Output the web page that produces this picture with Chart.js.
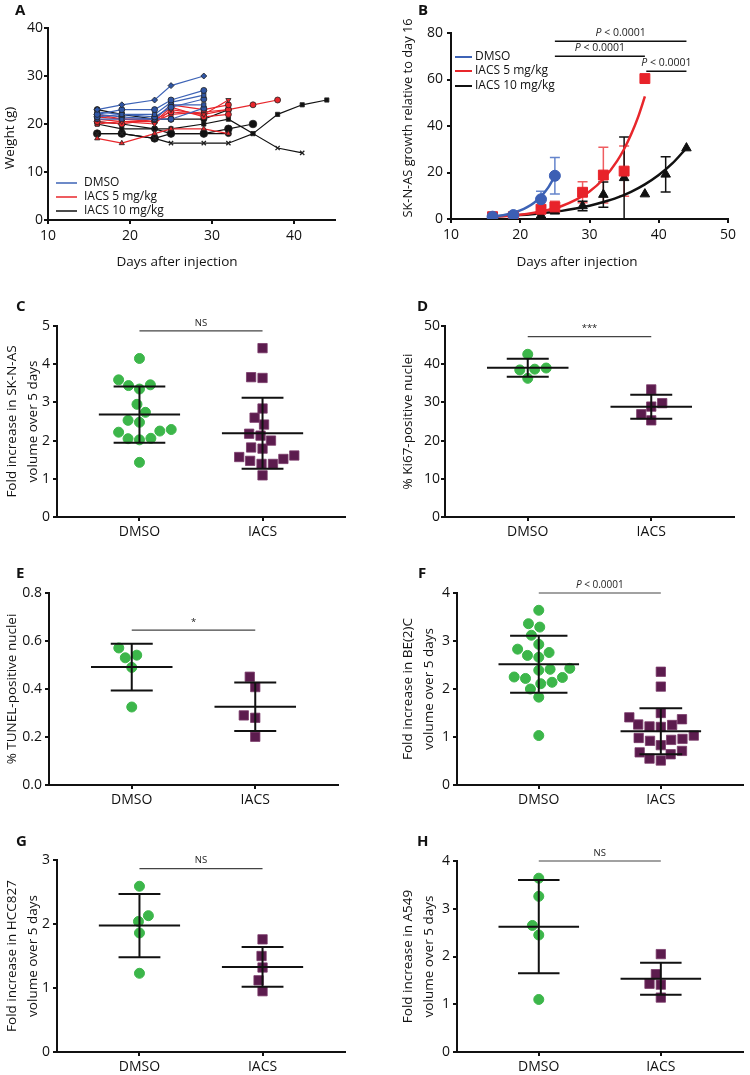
<!DOCTYPE html>
<html>
<head>
<meta charset="utf-8">
<script src="https://cdn.jsdelivr.net/npm/chart.js@4.4.1/dist/chart.umd.min.js"></script>
<style>
body{margin:0;background:#fff;width:750px;height:1075px;position:relative;overflow:hidden}
canvas{position:absolute}
</style>
</head>
<body>
<canvas id="cA" width="375" height="270" style="left:0;top:0"></canvas>
<canvas id="cB" width="375" height="270" style="left:375px;top:0"></canvas>
<canvas id="cC" width="375" height="270" style="left:0;top:270px"></canvas>
<canvas id="cD" width="375" height="270" style="left:375px;top:270px"></canvas>
<canvas id="cE" width="375" height="270" style="left:0;top:540px"></canvas>
<canvas id="cF" width="375" height="270" style="left:375px;top:540px"></canvas>
<canvas id="cG" width="375" height="265" style="left:0;top:810px"></canvas>
<canvas id="cH" width="375" height="265" style="left:375px;top:810px"></canvas>
<script>
// ---- data ----
const groups = ['DMSO', 'IACS 5 mg/kg', 'IACS 10 mg/kg'];
const cats = ['DMSO', 'IACS'];

// A: body weight (g) of each mouse by day
const aDays = [16, 19, 23, 25, 29, 32, 35, 38, 41, 44];
const aDmso = [
  [23, 24, 25, 28, 30],
  [22, 23, 23, 25, 27],
  [22.5, 22, 22, 24.5, 26],
  [21.5, 22, 21.5, 23.5, 25.2],
  [21, 21, 21, 24, 24],
  [22, 21.5, 21, 21, 23.3]
];
const aIacs5 = [
  [17, 16, 18, 19, 19, 18],
  [21, 20.5, 20, 23, 22, 25],
  [22, 21, 21, 24, 23, 24],
  [21.5, 21, 20.5, 23.5, 21.5, 22],
  [20.5, 20, 21, 22.5, 22, 23, 24, 25],
  [20, 20.5, 20.5, 22, 22.5, 23]
];
const aIacs10 = [
  [23, 22, 21, 21, 21, 23],
  [20, 19, 19, 19, 20, 21, 18, 22, 24, 25],
  [18, 18, 17, 16, 16, 16, 18, 15, 14],
  [18, 18, 17, 18, 18, 19, 20],
  [20.5, 20, 19, 18, 18, 18]
];

// B: growth relative to day 16 (mean, SD)
const bDays = [16, 19, 23, 25, 29, 32, 35, 38, 41, 44];
const bDmso = [1.0, 1.7, 8.5, 18.6, null, null, null, null, null, null];
const bDmsoSd = [null, null, 3.4, 7.8, null, null, null, null, null, null];
const bIacs5 = [1.0, 1.0, 4.2, 5.2, 11.5, 18.9, 20.6, 60.4, null, null];
const bIacs5Sd = [null, null, null, 2.4, 4.5, 12.0, 10.8, null, null, null];
const bIacs10 = [null, null, 1.6, 3.3, 5.6, 10.5, 17.7, 10.7, 19.2, 30.5];
const bIacs10Sd = [null, null, null, null, 2.0, 5.4, 17.6, null, 7.6, null];
// exponential fit curves
const bFitDmsoX = [16, 17, 18, 19, 20, 21, 22, 23, 24, 25];
const bFitDmsoY = [1.0, 1.4, 1.95, 2.7, 3.7, 5.1, 7.0, 9.7, 13.4, 18.5];
const bFitIacs5X = [16, 18, 20, 22, 24, 26, 28, 30, 32, 34, 35, 36, 37, 38];
const bFitIacs5Y = [0.9, 1.3, 1.8, 2.7, 3.9, 5.6, 8.2, 11.8, 17.2, 25, 30.1, 36.3, 43.7, 52.7];
const bFitIacs10X = [16, 18, 20, 22, 24, 26, 28, 30, 32, 34, 36, 38, 40, 42, 44];
const bFitIacs10Y = [1.05, 1.35, 1.7, 2.2, 2.8, 3.5, 4.5, 5.7, 7.3, 9.2, 11.7, 14.9, 18.9, 24, 30.5];

// C: SK-N-AS fold increase
const cDmso = [4.15, 3.46, 3.35, 3.44, 3.59, 2.95, 2.74, 2.48, 2.53, 2.29, 2.22, 2.25, 2.05, 2.02, 2.06, 1.43];
const cIacs = [4.42, 3.64, 3.66, 2.84, 2.60, 2.42, 2.18, 2.13, 2.00, 1.79, 1.82, 1.61, 1.52, 1.47, 1.57, 1.39, 1.39, 1.09];
const cMean = [2.68, 2.19];
const cSd = [0.735, 0.93];
// D: Ki67
const dDmso = [42.6, 38.7, 38.5, 39.0, 36.3];
const dIacs = [33.4, 29.8, 28.9, 26.9, 25.3];
const dMean = [39.05, 28.85];
const dSd = [2.35, 3.15];
// E: TUNEL
const eDmso = [0.541, 0.530, 0.571, 0.490, 0.325];
const eIacs = [0.451, 0.408, 0.290, 0.280, 0.201];
const eMean = [0.4915, 0.326];
const eSd = [0.0975, 0.101];
// F: BE(2)C
const fDmso = [3.64, 3.36, 3.29, 3.12, 2.93, 2.83, 2.76, 2.66, 2.70, 2.41, 2.39, 2.43, 2.25, 2.22, 2.24, 2.11, 2.00, 2.14, 1.83, 1.03];
const fIacs = [2.36, 2.05, 1.50, 1.37, 1.41, 1.25, 1.21, 1.22, 1.26, 1.03, 0.96, 0.92, 0.83, 0.94, 0.98, 0.71, 0.64, 0.68, 0.51, 0.55];
const fMean = [2.515, 1.12];
const fSd = [0.595, 0.478];
// G: HCC827
const gDmso = [2.59, 2.13, 2.04, 1.86, 1.23];
const gIacs = [1.76, 1.50, 1.32, 1.12, 0.95];
const gMean = [1.975, 1.33];
const gSd = [0.495, 0.31];
// H: A549
const hDmso = [3.64, 3.26, 2.65, 2.45, 1.10];
const hIacs = [2.05, 1.63, 1.43, 1.41, 1.14];
const hMean = [2.625, 1.535];
const hSd = [0.975, 0.335];

// ---- style ----
const FONT = '"Open Sans", "DejaVu Sans", sans-serif';
const INK = '#111';
const lineColors = ['#3d63b6', '#e8262b', '#111111'];
const errColors = ['#6585cc', '#ef5d60', '#111111'];
const green = '#3cb64a', purple = '#5c1c4e';
// marker shape per mouse in panel A
const aMarks = [
  ['rectRot', 'circle', 'rect', 'circle', 'rect', 'circle'],
  ['triangle', 'triangleDown', 'circle', 'circle', 'circle', 'rect'],
  ['circle', 'rect', 'crossRot', 'bigCircle', 'circle']
];
Chart.defaults.font.family = FONT;
Chart.defaults.color = INK;
Chart.defaults.animation = false;

function drawPText(ctx, text, cx, cy, size) {
  // italic P for p-values
  ctx.save();
  ctx.textBaseline = 'middle';
  ctx.fillStyle = '#222';
  if (text.startsWith('P ')) {
    const rest = text.slice(1);
    ctx.font = `italic ${size}px ${FONT}`;
    const w1 = ctx.measureText('P').width;
    ctx.font = `${size}px ${FONT}`;
    const w2 = ctx.measureText(rest).width;
    const x0 = cx - (w1 + w2) / 2;
    ctx.textAlign = 'left';
    ctx.font = `italic ${size}px ${FONT}`;
    ctx.fillText('P', x0, cy);
    ctx.font = `${size}px ${FONT}`;
    ctx.fillText(rest, x0 + w1, cy);
  } else {
    ctx.textAlign = 'center';
    ctx.font = `${size}px ${FONT}`;
    ctx.fillText(text, cx, cy);
  }
  ctx.restore();
}

const decor = {
  id: 'decor',
  beforeDatasetsDraw(chart) {
    const { ctx, scales: { x, y } } = chart;
    chart.data.datasets.forEach(ds => {
      if (!ds.errors) return;
      ctx.save();
      ctx.strokeStyle = ds.errColor;
      ctx.lineWidth = 1.5;
      ds.data.forEach((p, i) => {
        const e = ds.errors[i];
        if (e == null) return;
        const px = x.getPixelForValue(p.x);
        const lo = y.getPixelForValue(p.y - e), hi = y.getPixelForValue(p.y + e);
        ctx.beginPath();
        ctx.moveTo(px, lo); ctx.lineTo(px, hi);
        ctx.moveTo(px - 5, lo); ctx.lineTo(px + 5, lo);
        ctx.moveTo(px - 5, hi); ctx.lineTo(px + 5, hi);
        ctx.stroke();
      });
      ctx.restore();
    });
  },
  afterDatasetsDraw(chart) {
    const o = chart.options.plugins.decor;
    if (!o || !o.mean) return;
    const { ctx, scales: { x, y } } = chart;
    ctx.save();
    ctx.strokeStyle = INK;
    ctx.lineWidth = 2;
    o.mean.forEach((m, i) => {
      const c = i + 1, sd = o.sd[i], cw = o.capW[i];
      const ym = y.getPixelForValue(m), yt = y.getPixelForValue(m + sd), yb = y.getPixelForValue(m - sd);
      ctx.beginPath();
      ctx.moveTo(x.getPixelForValue(c - 0.33), ym); ctx.lineTo(x.getPixelForValue(c + 0.33), ym);
      ctx.moveTo(x.getPixelForValue(c), yt); ctx.lineTo(x.getPixelForValue(c), yb);
      ctx.moveTo(x.getPixelForValue(c - cw), yt); ctx.lineTo(x.getPixelForValue(c + cw), yt);
      ctx.moveTo(x.getPixelForValue(c - cw), yb); ctx.lineTo(x.getPixelForValue(c + cw), yb);
      ctx.stroke();
    });
    ctx.restore();
  },
  afterDraw(chart) {
    const o = chart.options.plugins.decor;
    if (!o) return;
    const { ctx, scales: { x, y } } = chart;
    ctx.save();
    if (o.letter) {
      ctx.font = `bold 15px ${FONT}`;
      ctx.fillStyle = INK;
      ctx.textAlign = 'left';
      ctx.textBaseline = 'alphabetic';
      ctx.fillText(o.letter[0], o.letter[1], o.letter[2]);
    }
    (o.texts || []).forEach(t => {
      ctx.save();
      ctx.translate(t.x, t.y);
      if (t.rot) ctx.rotate(-Math.PI / 2);
      ctx.font = `${t.size}px ${FONT}`;
      ctx.fillStyle = INK;
      ctx.textAlign = 'center';
      ctx.textBaseline = 'middle';
      ctx.fillText(t.t, 0, 0);
      ctx.restore();
    });
    if (o.legend) {
      const L = o.legend;
      groups.forEach((g, i) => {
        ctx.strokeStyle = lineColors[i];
        ctx.lineWidth = L.lw;
        ctx.beginPath();
        ctx.moveTo(L.x1, L.ys[i]); ctx.lineTo(L.x2, L.ys[i]);
        ctx.stroke();
        ctx.font = `${L.size}px ${FONT}`;
        ctx.fillStyle = INK;
        ctx.textAlign = 'left';
        ctx.textBaseline = 'middle';
        ctx.fillText(g, L.tx, L.ys[i]);
      });
    }
    (o.sig || []).forEach(s => {
      const x1 = x.getPixelForValue(s.x1), x2 = x.getPixelForValue(s.x2), py = y.getPixelForValue(s.y);
      ctx.strokeStyle = s.color || '#444';
      ctx.lineWidth = s.lw || 1.2;
      ctx.beginPath();
      ctx.moveTo(x1, py); ctx.lineTo(x2, py);
      ctx.stroke();
      drawPText(ctx, s.text, (x1 + x2) / 2, py - 8, s.size || 9.5);
    });
    ctx.restore();
  }
};
Chart.register(decor);

function yAxis(min, max, step, w, pad, title, fmt) {
  return {
    type: 'linear', min, max,
    ticks: { stepSize: step, font: { size: 14 }, color: INK, padding: pad,
      callback: v => fmt ? fmt(v) : v },
    grid: { drawOnChartArea: false, drawTicks: true, tickLength: 4, color: INK, lineWidth: 2 },
    border: { color: INK, width: 2 },
    title: title || { display: false },
    afterFit: s => { s.width = w; }
  };
}

// ---- A ----
(function () {
  const sets = [];
  [aDmso, aIacs5, aIacs10].forEach((grp, gi) => grp.forEach((m, mi) => {
    let mk = aMarks[gi][mi], rot = 0, r = 3;
    if (mk === 'triangleDown') { mk = 'triangle'; rot = 180; }
    if (mk === 'bigCircle') { mk = 'circle'; r = 3.8; }
    sets.push({
      type: 'line',
      data: m.map((w, i) => ({ x: aDays[i], y: w })),
      borderColor: lineColors[gi], borderWidth: 1.2, tension: 0,
      pointStyle: mk, pointRotation: rot, pointRadius: r,
      pointBackgroundColor: gi === 0 ? '#2f55a4' : lineColors[gi],
      pointBorderColor: '#222', pointBorderWidth: mk === 'crossRot' ? 1.3 : 0.8
    });
  }));
  new Chart(document.getElementById('cA'), {
    type: 'line',
    data: { datasets: sets },
    options: {
      responsive: false,
      layout: { padding: { top: 28, right: 40, left: 0, bottom: 0 } },
      plugins: {
        legend: { display: false }, tooltip: { enabled: false },
        decor: {
          letter: ['A', 15, 15],
          texts: [
            { t: 'Weight (g)', x: 10, y: 138, rot: true, size: 13.5 },
            { t: 'Days after injection', x: 177, y: 262, size: 13.5 }
          ],
          legend: { x1: 56, x2: 77, tx: 84, ys: [183, 197, 211], size: 12, lw: 1.5 }
        }
      },
      scales: {
        x: {
          type: 'linear', min: 10, max: 45,
          afterBuildTicks: s => { s.ticks = [10, 20, 30, 40].map(v => ({ value: v })); },
          ticks: { font: { size: 14 }, color: INK, padding: 4 },
          grid: { drawOnChartArea: false, drawTicks: true, tickLength: 4, color: INK, lineWidth: 2 },
          border: { color: INK, width: 2 },
          afterFit: s => { s.height = 50; }
        },
        y: yAxis(0, 40, 10, 48, 1)
      }
    }
  });
})();

// ---- B ----
(function () {
  const pts = (vals, sd) => {
    const data = [], err = [];
    bDays.forEach((d, i) => { if (vals[i] != null) { data.push({ x: d, y: vals[i] }); err.push(sd[i]); } });
    return { data, err };
  };
  const p0 = pts(bDmso, bDmsoSd), p1 = pts(bIacs5, bIacs5Sd), p2 = pts(bIacs10, bIacs10Sd);
  const fit = (xs, ys, c) => ({
    type: 'line', order: 2, data: xs.map((d, i) => ({ x: d, y: ys[i] })),
    borderColor: c, borderWidth: 2.5, pointRadius: 0, tension: 0.4, cubicInterpolationMode: 'monotone'
  });
  new Chart(document.getElementById('cB'), {
    type: 'scatter',
    data: {
      datasets: [
        { data: p0.data, errors: p0.err, errColor: errColors[0], order: 1, pointStyle: 'circle', pointRadius: 5.5,
          backgroundColor: '#3c5fb4', borderColor: '#3c5fb4' },
        { data: p1.data, errors: p1.err, errColor: errColors[1], order: 1, pointStyle: 'rect', pointRadius: 7,
          backgroundColor: '#e8232a', borderColor: '#e8232a' },
        { data: p2.data, errors: p2.err, errColor: errColors[2], order: 1, pointStyle: 'triangle', pointRadius: 5.5,
          backgroundColor: INK, borderColor: INK },
        fit(bFitDmsoX, bFitDmsoY, lineColors[0]),
        fit(bFitIacs5X, bFitIacs5Y, lineColors[1]),
        fit(bFitIacs10X, bFitIacs10Y, lineColors[2])
      ]
    },
    options: {
      responsive: false,
      layout: { padding: { top: 33, right: 22, left: 0, bottom: 0 } },
      plugins: {
        legend: { display: false }, tooltip: { enabled: false },
        decor: {
          letter: ['B', 43, 15],
          texts: [
            { t: 'SK-N-AS growth relative to day 16', x: 33, y: 118, rot: true, size: 12.8 },
            { t: 'Days after injection', x: 202, y: 262, size: 13.5 }
          ],
          legend: { x1: 80, x2: 97, tx: 100, ys: [57, 71, 86], size: 12, lw: 2 },
          sig: [
            { x1: 25, x2: 44, y: 76.4, text: 'P < 0.0001', color: INK, lw: 1.5, size: 10.5 },
            { x1: 25, x2: 38, y: 70, text: 'P < 0.0001', color: INK, lw: 1.5, size: 10.5 },
            { x1: 38.2, x2: 44, y: 63.5, text: 'P < 0.0001', color: INK, lw: 1.5, size: 10.5 }
          ]
        }
      },
      scales: {
        x: {
          type: 'linear', min: 10, max: 50,
          ticks: { stepSize: 10, font: { size: 14 }, color: INK, padding: 4 },
          grid: { drawOnChartArea: false, drawTicks: true, tickLength: 4, color: INK, lineWidth: 2 },
          border: { color: INK, width: 2 },
          afterFit: s => { s.height = 51; }
        },
        y: yAxis(0, 80, 20, 76, 4)
      }
    }
  });
})();

// ---- dot plots C-H ----
// beeswarm: each value goes to the nearest free horizontal slot (pixel space)
function swarm(vals, cx, pxPerY, diam) {
  const pxPerX = 124;
  const placed = [];
  const order = vals.map((v, i) => i).sort((a, b) => vals[a] - vals[b]);
  order.forEach(i => {
    const yp = vals[i] * pxPerY;
    let dx = null;
    for (let k = 0; k < 400 && dx === null; k++) {
      const cands = k === 0 ? [0] : [-k * 0.5, k * 0.5];
      for (const c of cands) {
        if (placed.every(p => (p.dx - c) ** 2 + (p.yp - yp) ** 2 >= diam * diam)) { dx = c; break; }
      }
    }
    placed.push({ dx, yp, v: vals[i] });
  });
  return placed.map(p => ({ x: cx + p.dx / pxPerX, y: p.v }));
}

function dotPanel(id, o) {
  const pxPerY = 191 / o.yMax;
  const titleSize = 13.5;
  new Chart(document.getElementById(id), {
    type: 'scatter',
    data: {
      datasets: [
        { data: swarm(o.vals[0], 1, pxPerY, 11.5), pointStyle: 'circle', pointRadius: 5,
          backgroundColor: green, borderColor: green },
        { data: swarm(o.vals[1], 2, pxPerY, 11.5), pointStyle: 'rect', pointRadius: 6.6,
          backgroundColor: purple, borderColor: '#7a3a6a', borderWidth: 0.8 }
      ]
    },
    options: {
      responsive: false,
      layout: { padding: { top: o.top, right: o.right, left: 0, bottom: 0 } },
      plugins: {
        legend: { display: false }, tooltip: { enabled: false },
        decor: {
          letter: o.letter, mean: o.mean, sd: o.sd, capW: o.capW || [0.17, 0.17],
          sig: [{ x1: 1, x2: 2, y: o.sigY, text: o.sigText, size: o.sigSize || 9.5 }]
        }
      },
      scales: {
        x: {
          type: 'linear', min: 0.33, max: 2.67,
          afterBuildTicks: s => { s.ticks = [{ value: 1 }, { value: 2 }]; },
          ticks: { font: { size: 14 }, color: INK, padding: 3, callback: v => cats[Math.round(v) - 1] },
          grid: { drawOnChartArea: false, drawTicks: true, tickLength: 4, color: INK, lineWidth: 2 },
          border: { color: INK, width: 2 },
          afterFit: s => { s.height = o.xh; }
        },
        y: yAxis(0, o.yMax, o.yStep, o.yw, o.tickPad || 3, {
          display: true, text: o.yTitle, color: INK,
          font: { size: titleSize, lineHeight: o.yTitle.length > 1 ? 1.55 : 1.2 },
          padding: { top: o.titlePad, bottom: 0 }
        }, o.fmt)
      }
    }
  });
}

dotPanel('cC', { vals: [cDmso, cIacs], mean: cMean, sd: cSd, capW: [0.21, 0.17], yMax: 5, yStep: 1,
  yw: 57, top: 56, right: 30, xh: 23, titlePad: 1.5, letter: ['C', 16, 41],
  yTitle: ['Fold increase in SK-N-AS', 'volume over 5 days'], sigY: 4.87, sigText: 'NS' });
dotPanel('cD', { vals: [dDmso, dIacs], mean: dMean, sd: dSd, yMax: 50, yStep: 10,
  yw: 70, top: 56, right: 16, xh: 23, titlePad: 25, tickPad: 1, letter: ['D', 42, 41],
  yTitle: ['% Ki67-positive nuclei'], sigY: 47.2, sigText: '***' });
dotPanel('cE', { vals: [eDmso, eIacs], mean: eMean, sd: eSd, yMax: 0.8, yStep: 0.2,
  yw: 49, top: 53, right: 37, xh: 25, titlePad: 4, letter: ['E', 16, 38], fmt: v => v.toFixed(1),
  yTitle: ['% TUNEL-positive nuclei'], sigY: 0.645, sigText: '*' });
dotPanel('cF', { vals: [fDmso, fIacs], mean: fMean, sd: fSd, capW: [0.235, 0.175], yMax: 4, yStep: 1,
  yw: 82, top: 53, right: 5, xh: 25, titlePad: 22.5, letter: ['F', 43, 38],
  yTitle: ['Fold increase in BE(2)C', 'volume over 5 days'], sigY: 4.0, sigText: 'P < 0.0001', sigSize: 10 });
dotPanel('cG', { vals: [gDmso, gIacs], mean: gMean, sd: gSd, yMax: 3, yStep: 1,
  yw: 57, top: 50, right: 30, xh: 23, titlePad: 1.5, letter: ['G', 16, 36],
  yTitle: ['Fold increase in HCC827', 'volume over 5 days'], sigY: 2.865, sigText: 'NS' });
dotPanel('cH', { vals: [hDmso, hIacs], mean: hMean, sd: hSd, yMax: 4, yStep: 1,
  yw: 82, top: 51, right: 4, xh: 23, titlePad: 22.5, letter: ['H', 42, 36],
  yTitle: ['Fold increase in A549', 'volume over 5 days'], sigY: 4.0, sigText: 'NS' });
</script>
</body>
</html>
